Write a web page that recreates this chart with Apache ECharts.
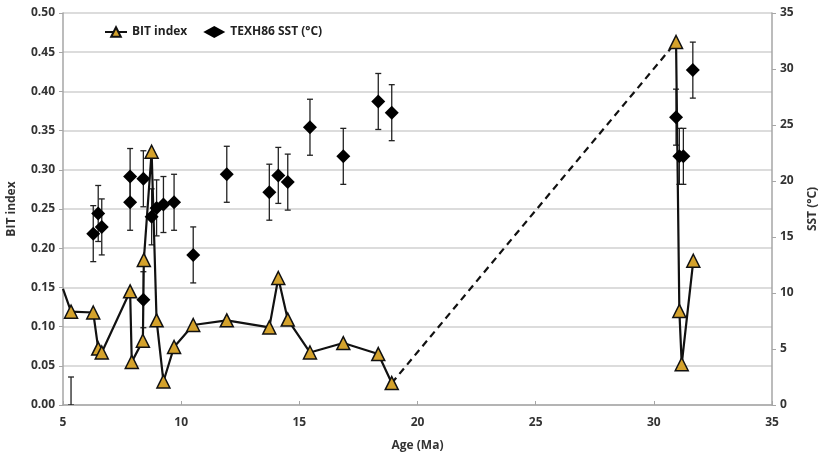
<!DOCTYPE html>
<html>
<head>
<meta charset="utf-8">
<script src="https://cdn.jsdelivr.net/npm/echarts@6/dist/echarts.min.js"></script>
<style>html,body{margin:0;padding:0;background:#fff}#c{width:824px;height:457px}</style>
</head>
<body>
<div id="c"></div>
<script>
// BIT index, Miocene segment (age Ma, value)
var bitAgeA = [5.0, 5.34, 6.28, 6.49, 6.64, 7.84, 7.91, 8.38, 8.42, 8.75, 8.96, 9.25, 9.70, 10.51, 11.93, 13.73, 14.11, 14.51, 15.45, 16.86, 18.34, 18.91];
var bitValA = [0.148, 0.119, 0.118, 0.072, 0.067, 0.145, 0.055, 0.082, 0.185, 0.323, 0.108, 0.030, 0.074, 0.102, 0.108, 0.099, 0.162, 0.109, 0.067, 0.079, 0.065, 0.028];
// BIT index, Oligocene segment
var bitAgeB = [30.94, 31.08, 31.18, 31.67];
var bitValB = [0.463, 0.120, 0.052, 0.184];
// Dashed connector (gap in record)
var gapAge = [18.91, 30.94];
var gapVal = [0.028, 0.463];
// TEXH86 SST (°C) and its error (±°C); value null = error bar only
var sstAge = [5.34, 6.28, 6.49, 6.64, 7.84, 7.84, 8.40, 8.40, 8.75, 8.96, 9.25, 9.70, 10.51, 11.93, 13.73, 14.11, 14.51, 15.45, 16.86, 18.34, 18.91, 30.94, 31.08, 31.25, 31.65];
var sstVal = [null, 15.3, 17.1, 15.9, 20.4, 18.1, 20.2, 9.4, 16.8, 17.6, 17.9, 18.1, 13.4, 20.6, 19.0, 20.5, 19.9, 24.8, 22.2, 27.1, 26.1, 25.7, 22.2, 22.2, 29.9];
var sstErr = [2.5, 2.5, 2.5, 2.5, 2.5, 2.5, 2.5, 2.5, 2.5, 2.5, 2.5, 2.5, 2.5, 2.5, 2.5, 2.5, 2.5, 2.5, 2.5, 2.5, 2.5, 2.5, 2.5, 2.5, 2.5];

var pairs = function (xs, ys) { return xs.map(function (x, i) { return [x, ys[i]]; }); };
var bitA = pairs(bitAgeA, bitValA).map(function (p, i) {
  return i === 0 ? { value: p, symbol: 'none' } : p;
});
var sstPts = [], errData = [];
sstAge.forEach(function (x, i) {
  var v = sstVal[i] == null ? 0 : sstVal[i];
  if (sstVal[i] != null) sstPts.push([x, v]);
  errData.push([x, Math.max(0, v - sstErr[i]), v + sstErr[i]]);
});

var font = '"Open Sans", "Liberation Sans", sans-serif';
var textCol = '#333';
var axisCol = '#a6a6a6';
var gold = '#d4a22c';

var chart = echarts.init(document.getElementById('c'), null, { renderer: 'canvas' });
chart.setOption({
  animation: false,
  textStyle: { fontFamily: font },
  grid: { left: 63, right: 52, top: 13, bottom: 52, containLabel: false, outerBoundsMode: 'none' },
  legend: {
    left: 99, top: 21, itemGap: 16, itemWidth: 22, itemHeight: 12,
    data: [
      { name: 'BIT index' },
      { name: 'TEXH86 SST (°C)', icon: 'diamond' }
    ],
    textStyle: { fontFamily: font, fontSize: 12, fontWeight: 'bold', color: '#222' }
  },
  xAxis: {
    type: 'value', min: 5, max: 35, interval: 5,
    name: 'Age (Ma)', nameLocation: 'middle', nameGap: 35,
    nameTextStyle: { fontFamily: font, fontSize: 12, fontWeight: 'bold', color: textCol },
    axisLine: { show: true, lineStyle: { color: axisCol, width: 1.5 } },
    axisTick: { show: true, inside: true, length: 4, lineStyle: { color: axisCol } },
    axisLabel: { fontFamily: font, fontSize: 12, fontWeight: 'bold', color: textCol, margin: 12 },
    splitLine: { show: false }
  },
  yAxis: [{
    type: 'value', min: 0, max: 0.5, interval: 0.05,
    name: 'BIT index', nameLocation: 'middle', nameGap: 45, nameRotate: 90,
    nameTextStyle: { fontFamily: font, fontSize: 12, fontWeight: 'bold', color: textCol },
    axisLine: { show: true, lineStyle: { color: axisCol, width: 1.5 } },
    axisTick: { show: true, length: 4, lineStyle: { color: axisCol } },
    axisLabel: { fontFamily: font, fontSize: 12, fontWeight: 'bold', color: textCol, margin: 8,
      formatter: function (v) { return v.toFixed(2); } },
    splitLine: { show: true, lineStyle: { color: '#d0d0d0', width: 1.5 } }
  }, {
    type: 'value', min: 0, max: 35, interval: 5, position: 'right',
    name: 'SST (°C)', nameLocation: 'middle', nameGap: 35, nameRotate: 90,
    nameTextStyle: { fontFamily: font, fontSize: 12, fontWeight: 'bold', color: textCol },
    axisLine: { show: true, lineStyle: { color: axisCol, width: 1.5 } },
    axisTick: { show: true, length: 4, lineStyle: { color: axisCol } },
    axisLabel: { fontFamily: font, fontSize: 12, fontWeight: 'bold', color: textCol, margin: 8 },
    splitLine: { show: false }
  }],
  series: [{
    name: 'SST error', type: 'custom', yAxisIndex: 1, z: 2,
    data: errData,
    renderItem: function (params, api) {
      var x = api.value(0);
      var lo = api.coord([x, api.value(1)]);
      var hi = api.coord([x, api.value(2)]);
      var w = 3;
      var st = { stroke: '#222', lineWidth: 1.3 };
      return { type: 'group', children: [
        { type: 'line', shape: { x1: lo[0], y1: lo[1], x2: hi[0], y2: hi[1] }, style: st },
        { type: 'line', shape: { x1: hi[0] - w, y1: hi[1], x2: hi[0] + w, y2: hi[1] }, style: st },
        { type: 'line', shape: { x1: lo[0] - w, y1: lo[1], x2: lo[0] + w, y2: lo[1] }, style: st }
      ] };
    },
    clip: true
  }, {
    name: 'gap', type: 'line', yAxisIndex: 0, z: 3,
    data: pairs(gapAge, gapVal), symbol: 'none',
    lineStyle: { color: '#111', width: 2.2, type: [7, 5] }
  }, {
    name: 'BIT index', type: 'line', yAxisIndex: 0, z: 4, clip: true,
    data: bitA,
    symbol: 'triangle', symbolSize: 13,
    itemStyle: { color: gold, borderColor: '#111', borderWidth: 1.5 },
    lineStyle: { color: '#111', width: 2.2 }
  }, {
    name: 'BIT index', type: 'line', yAxisIndex: 0, z: 4,
    data: pairs(bitAgeB, bitValB),
    symbol: 'triangle', symbolSize: 13,
    itemStyle: { color: gold, borderColor: '#111', borderWidth: 1.5 },
    lineStyle: { color: '#111', width: 2.2 }
  }, {
    name: 'TEXH86 SST (°C)', type: 'scatter', yAxisIndex: 1, z: 5,
    data: sstPts,
    symbol: 'diamond', symbolSize: 14,
    itemStyle: { color: '#000', opacity: 1 }
  }]
});
</script>
</body>
</html>
